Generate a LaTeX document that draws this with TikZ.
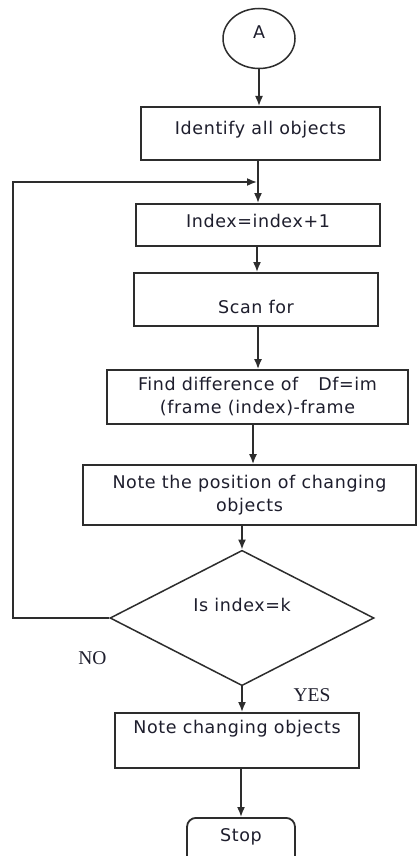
\documentclass[tikz,border=0pt]{standalone}
\usepackage{fontspec}
\usetikzlibrary{shapes.geometric,arrows.meta,calc}
\newfontfamily\boxfont{DejaVu Sans}[LetterSpace=3.5]
\newfontfamily\lblfont{Liberation Serif}
\definecolor{linec}{RGB}{45,45,45}
\definecolor{txtc}{RGB}{30,30,45}
\tikzset{
  box/.style={draw=linec, line width=1.8pt, rectangle, inner sep=0pt, align=center,
    text=txtc, font={\boxfont\fontsize{17.5}{23}\selectfont}},
  arr/.style={draw=linec, line width=1.6pt, -{Latex[length=10pt,width=8pt]}},
  lbl/.style={inner sep=0pt, text=txtc, font={\lblfont\fontsize{19.5}{22}\selectfont}}
}
\begin{document}
\begin{tikzpicture}[x=1pt,y=-1pt]
\useasboundingbox (0,0) rectangle (417,856);
\fill[white] (0,0) rectangle (417,856);
% start connector
\node[box, ellipse, line width=1.5pt, minimum width=72pt, minimum height=60pt, text height=12.8pt, text depth=12pt] (A) at (259,38.5) {A};
% boxes
\node[box, minimum width=239pt, text height=28pt, text depth=25pt, anchor=north] (b1) at (260.5,106) {Identify all objects};
\node[box, minimum width=244pt, text height=24pt, text depth=18pt, anchor=north] (b2) at (258,203) {Index=index+1};
\node[box, minimum width=244pt, text height=41pt, text depth=12pt, anchor=north] (b3) at (256,272) {Scan for};
\node[box, minimum width=301pt, minimum height=54pt] (b4) at (257.5,397) {Find difference of\hspace{20pt}Df=im\\(frame (index)-frame};
\node[box, minimum width=333pt, minimum height=60pt] (b5) at (249.5,495) {Note the position of changing\\objects};
\node[box, diamond, line width=1.5pt, minimum width=264pt, minimum height=103pt, text height=12pt, text depth=26pt] (dec) at (242,618) {Is index=k};
\node[box, minimum width=244pt, text height=21pt, text depth=34pt, anchor=north] (b6) at (237,712) {Note changing objects};
\node[box, rounded corners=9pt, minimum width=108pt, text height=24pt, text depth=31pt, anchor=north] (stop) at (241,817) {Stop};
% labels
\node[lbl] (no) at (92.5,658) {NO};
\node[lbl] (yes) at (312,695) {YES};
% connectors
\coordinate (lj) at (257,182);
\draw[arr] (A.south) -- (A.south |- b1.north);
\draw[arr] (b1.south -| b2.north) -- (b2.north);
\draw[arr] (b2.south -| 257,0) -- (b3.north -| 257,0);
\draw[arr] (b3.south -| 258,0) -- (b4.north -| 258,0);
\draw[arr] (b4.south -| 253,0) -- (b5.north -| 253,0);
\draw[arr] (b5.south -| dec.north) -- (dec.north);
\draw[arr] (dec.south) -- (dec.south |- b6.north);
\draw[arr] (b6.south -| stop.north) -- (stop.north);
\draw[arr] (dec.west) -- (13,618) |- (lj);
\end{tikzpicture}
\end{document}
